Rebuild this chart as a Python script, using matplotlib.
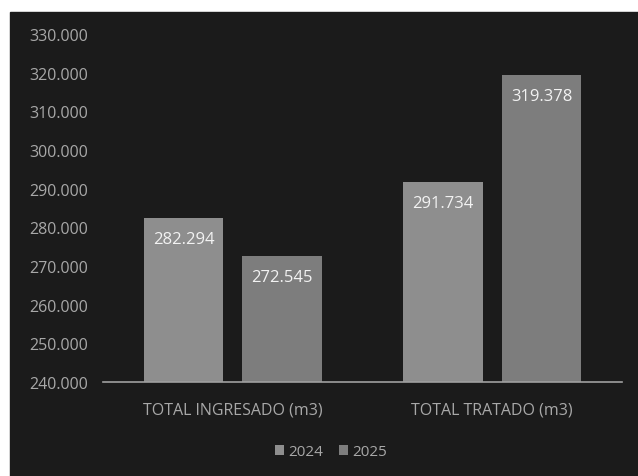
import matplotlib.pyplot as plt
import numpy as np
from matplotlib.patches import Rectangle
from matplotlib.ticker import FuncFormatter

# datos
categorias = ['TOTAL INGRESADO (m3)', 'TOTAL TRATADO (m3)']
anios = ['2024', '2025']
valores_2024 = [282294, 291734]
valores_2025 = [272545, 319378]
ticks_y = [240000, 250000, 260000, 270000, 280000, 290000, 300000, 310000, 320000, 330000]

fondo = '#1b1b1b'
gris_texto = '#a8a8a8'
colores = ['#8e8e8e', '#7d7d7d']

plt.rcParams['font.family'] = ['Open Sans', 'DejaVu Sans']

fig = plt.figure(figsize=(6.38, 4.77), dpi=100)
fig.patch.set_facecolor('white')
fig.patches.append(Rectangle((10 / 638, 0), 1 - 10 / 638, 1 - 13 / 477,
                             transform=fig.transFigure, color=fondo, zorder=-10))

ax = fig.add_axes([103 / 638, 94 / 477, 519 / 638, 348 / 477])
ax.set_facecolor(fondo)

x = np.arange(len(categorias))
ancho = 0.305
desp = 0.19
barras1 = ax.bar(x - desp, valores_2024, ancho, color=colores[0], label=anios[0])
barras2 = ax.bar(x + desp, valores_2025, ancho, color=colores[1], label=anios[1])

fmt = lambda v: f'{v:,.0f}'.replace(',', '.')
for barras in (barras1, barras2):
    for b in barras:
        ax.annotate(fmt(b.get_height()), (b.get_x() + b.get_width() / 2, b.get_height()),
                    xytext=(0, -21), textcoords='offset pixels', ha='center', va='center',
                    color='#f2f2f2', fontsize=12)

ax.set_ylim(240000, 330000)
ax.set_xlim(-0.5, 1.5)
ax.set_yticks(ticks_y)
ax.yaxis.set_major_formatter(FuncFormatter(lambda v, p: fmt(v)))
ax.set_xticks(x)
ax.set_xticklabels(categorias)
ax.tick_params(axis='both', length=0, colors=gris_texto, labelsize=11.5)
ax.tick_params(axis='x', pad=14)
ax.tick_params(axis='y', pad=11)
for s in ['top', 'right', 'left']:
    ax.spines[s].set_visible(False)
ax.spines['bottom'].set_color('#a0a0a0')
ax.spines['bottom'].set_linewidth(1.2)

leg = fig.legend(loc='center', bbox_to_anchor=(331 / 638, 1 - 453 / 477), ncol=2,
                 frameon=False, fontsize=11, handlelength=0.6, handleheight=0.6,
                 handletextpad=0.3, columnspacing=1.0)
for t in leg.get_texts():
    t.set_color(gris_texto)

fig.savefig('out.png', dpi=100, facecolor=fig.get_facecolor())
